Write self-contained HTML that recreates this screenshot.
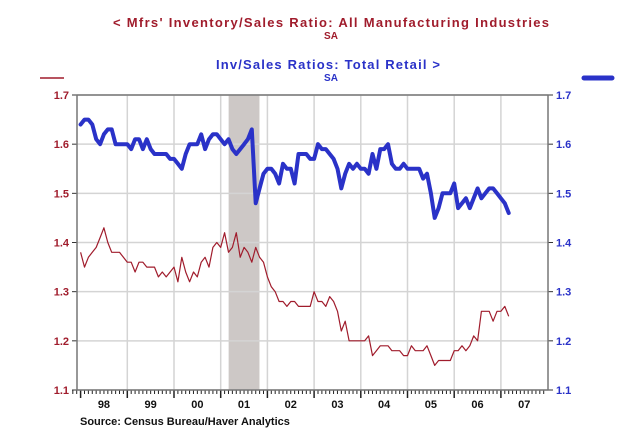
<!DOCTYPE html>
<html><head><meta charset="utf-8"><style>
html,body{margin:0;padding:0;background:#fff;}
svg{display:block;font-family:"Liberation Sans",Arial,sans-serif;}
</style></head><body>
<svg id="chart" width="620" height="434" viewBox="0 0 620 434">
<g>
<text x="331" y="27" text-anchor="middle" font-size="13" font-weight="bold" fill="#a01c2c" textLength="436">&lt;  Mfrs' Inventory/Sales Ratio: All Manufacturing Industries</text>
<text x="331" y="39" text-anchor="middle" font-size="10" font-weight="bold" fill="#a01c2c">SA</text>
<text x="328" y="69" text-anchor="middle" font-size="13" font-weight="bold" fill="#2a32c8" textLength="224">Inv/Sales Ratios: Total Retail  &gt;</text>
<text x="331" y="81" text-anchor="middle" font-size="10" font-weight="bold" fill="#2a32c8">SA</text>
<line x1="40" y1="78" x2="64" y2="78" stroke="#a01c2c" stroke-width="1.5"/>
<path d="M584,78 L612,78" stroke="#2a32c8" stroke-width="5" stroke-linecap="round"/>
</g>
<g id="plot"></g>
<text x="80" y="425" font-size="11" font-weight="bold" fill="#111">Source:  Census Bureau/Haver Analytics</text>
</svg>
<script>
const yTicks=[1.1,1.2,1.3,1.4,1.5,1.6,1.7];
const yearLabels=["98","99","00","01","02","03","04","05","06","07"];
const startYear=1998;
const recession=[2001.17,2001.83];
const retail=[1.64,1.65,1.65,1.64,1.61,1.60,1.62,1.63,1.63,1.60,1.60,1.60,
1.60,1.59,1.61,1.61,1.59,1.61,1.59,1.58,1.58,1.58,1.58,1.57,
1.57,1.56,1.55,1.58,1.60,1.60,1.60,1.62,1.59,1.61,1.62,1.62,
1.61,1.60,1.61,1.59,1.58,1.59,1.60,1.61,1.63,1.48,1.51,1.54,
1.55,1.55,1.54,1.52,1.56,1.55,1.55,1.52,1.58,1.58,1.58,1.57,
1.57,1.60,1.59,1.59,1.58,1.57,1.55,1.51,1.54,1.56,1.55,1.56,
1.55,1.55,1.54,1.58,1.55,1.59,1.59,1.60,1.56,1.55,1.55,1.56,
1.55,1.55,1.55,1.55,1.53,1.54,1.50,1.45,1.47,1.50,1.50,1.50,
1.52,1.47,1.48,1.49,1.47,1.49,1.51,1.49,1.50,1.51,1.51,1.50,
1.49,1.48,1.46];
const mfg=[1.38,1.35,1.37,1.38,1.39,1.41,1.43,1.40,1.38,1.38,1.38,1.37,
1.36,1.36,1.34,1.36,1.36,1.35,1.35,1.35,1.33,1.34,1.33,1.34,
1.35,1.32,1.37,1.34,1.32,1.34,1.33,1.36,1.37,1.35,1.39,1.40,
1.39,1.42,1.38,1.39,1.42,1.37,1.39,1.38,1.36,1.39,1.37,1.36,
1.33,1.31,1.30,1.28,1.28,1.27,1.28,1.28,1.27,1.27,1.27,1.27,
1.30,1.28,1.28,1.27,1.29,1.28,1.26,1.22,1.24,1.20,1.20,1.20,
1.20,1.20,1.21,1.17,1.18,1.19,1.19,1.19,1.18,1.18,1.18,1.17,
1.17,1.19,1.18,1.18,1.18,1.19,1.17,1.15,1.16,1.16,1.16,1.16,
1.18,1.18,1.19,1.18,1.19,1.21,1.20,1.26,1.26,1.26,1.24,1.26,
1.26,1.27,1.25];
const L=77,R=548,T=95,B=390;
const x=t=>80.6+(t-startYear)*46.7;
const y=v=>B-(v-1.1)/0.6*(B-T);
const NS="http://www.w3.org/2000/svg";
const g=document.getElementById('plot');
function mk(tag,attrs){const e=document.createElementNS(NS,tag);for(const k in attrs)e.setAttribute(k,attrs[k]);g.appendChild(e);return e;}
let e;
e=mk('rect',{x:x(recession[0]),y:T,width:x(recession[1])-x(recession[0]),height:B-T,fill:'#cdc8c6'});


yTicks.forEach(v=>{
 e=mk('line',{x1:L,x2:R,y1:y(v),y2:y(v),stroke:'#d4d4d4','stroke-width':1.5});
 
 
 e=mk('line',{x1:L-5,x2:L,y1:y(v),y2:y(v),stroke:'#333'});
 
 
 e=mk('line',{x1:R,x2:R+5,y1:y(v),y2:y(v),stroke:'#333'});
 
 
 e=mk('text',{x:L-8,y:y(v)+4,'text-anchor':'end','font-size':11,'font-weight':'bold',fill:'#a01c2c'});
 e.textContent=v.toFixed(1);
 
 
 e=mk('text',{x:R+8,y:y(v)+4,'font-size':11,'font-weight':'bold',fill:'#2a32c8'});
 e.textContent=v.toFixed(1);
 
 
});
yearLabels.forEach((lab,i)=>{
 const yr=startYear+i;
 if(i>0){e=mk('line',{x1:x(yr),x2:x(yr),y1:T,y2:B,stroke:'#d4d4d4','stroke-width':1.5});
 
 }
 for(let m=0;m<12;m++){const xx=x(yr+m/12);if(xx<L||xx>R)continue;
  e=mk('line',{x1:xx,x2:xx,y1:B,y2:B+(m==0?8:4),stroke:'#222','stroke-width':m==0?1.5:1});
  
  }
 e=mk('text',{x:x(yr+0.5),y:B+18,'text-anchor':'middle','font-size':11,'font-weight':'bold',fill:'#111'});
 e.textContent=lab;
 
 
});
for(let m=-2;m<0;m++){e=mk('line',{x1:x(startYear+m/12),x2:x(startYear+m/12),y1:B,y2:B+4,stroke:'#222'});
 
 }
e=mk('rect',{x:L,y:T,width:R-L,height:B-T,fill:'none',stroke:'#777','stroke-width':1.5});


function path(arr){return arr.map((v,i)=>(i?'L':'M')+x(startYear+i/12).toFixed(1)+','+y(v).toFixed(1)).join(' ');}
e=mk('path',{d:path(mfg),fill:'none',stroke:'#a01c2c','stroke-width':1.2,'stroke-linejoin':'round'});


e=mk('path',{d:path(retail),fill:'none',stroke:'#2a32c8','stroke-width':4,'stroke-linejoin':'round','stroke-linecap':'round'});


</script>
</body></html>
